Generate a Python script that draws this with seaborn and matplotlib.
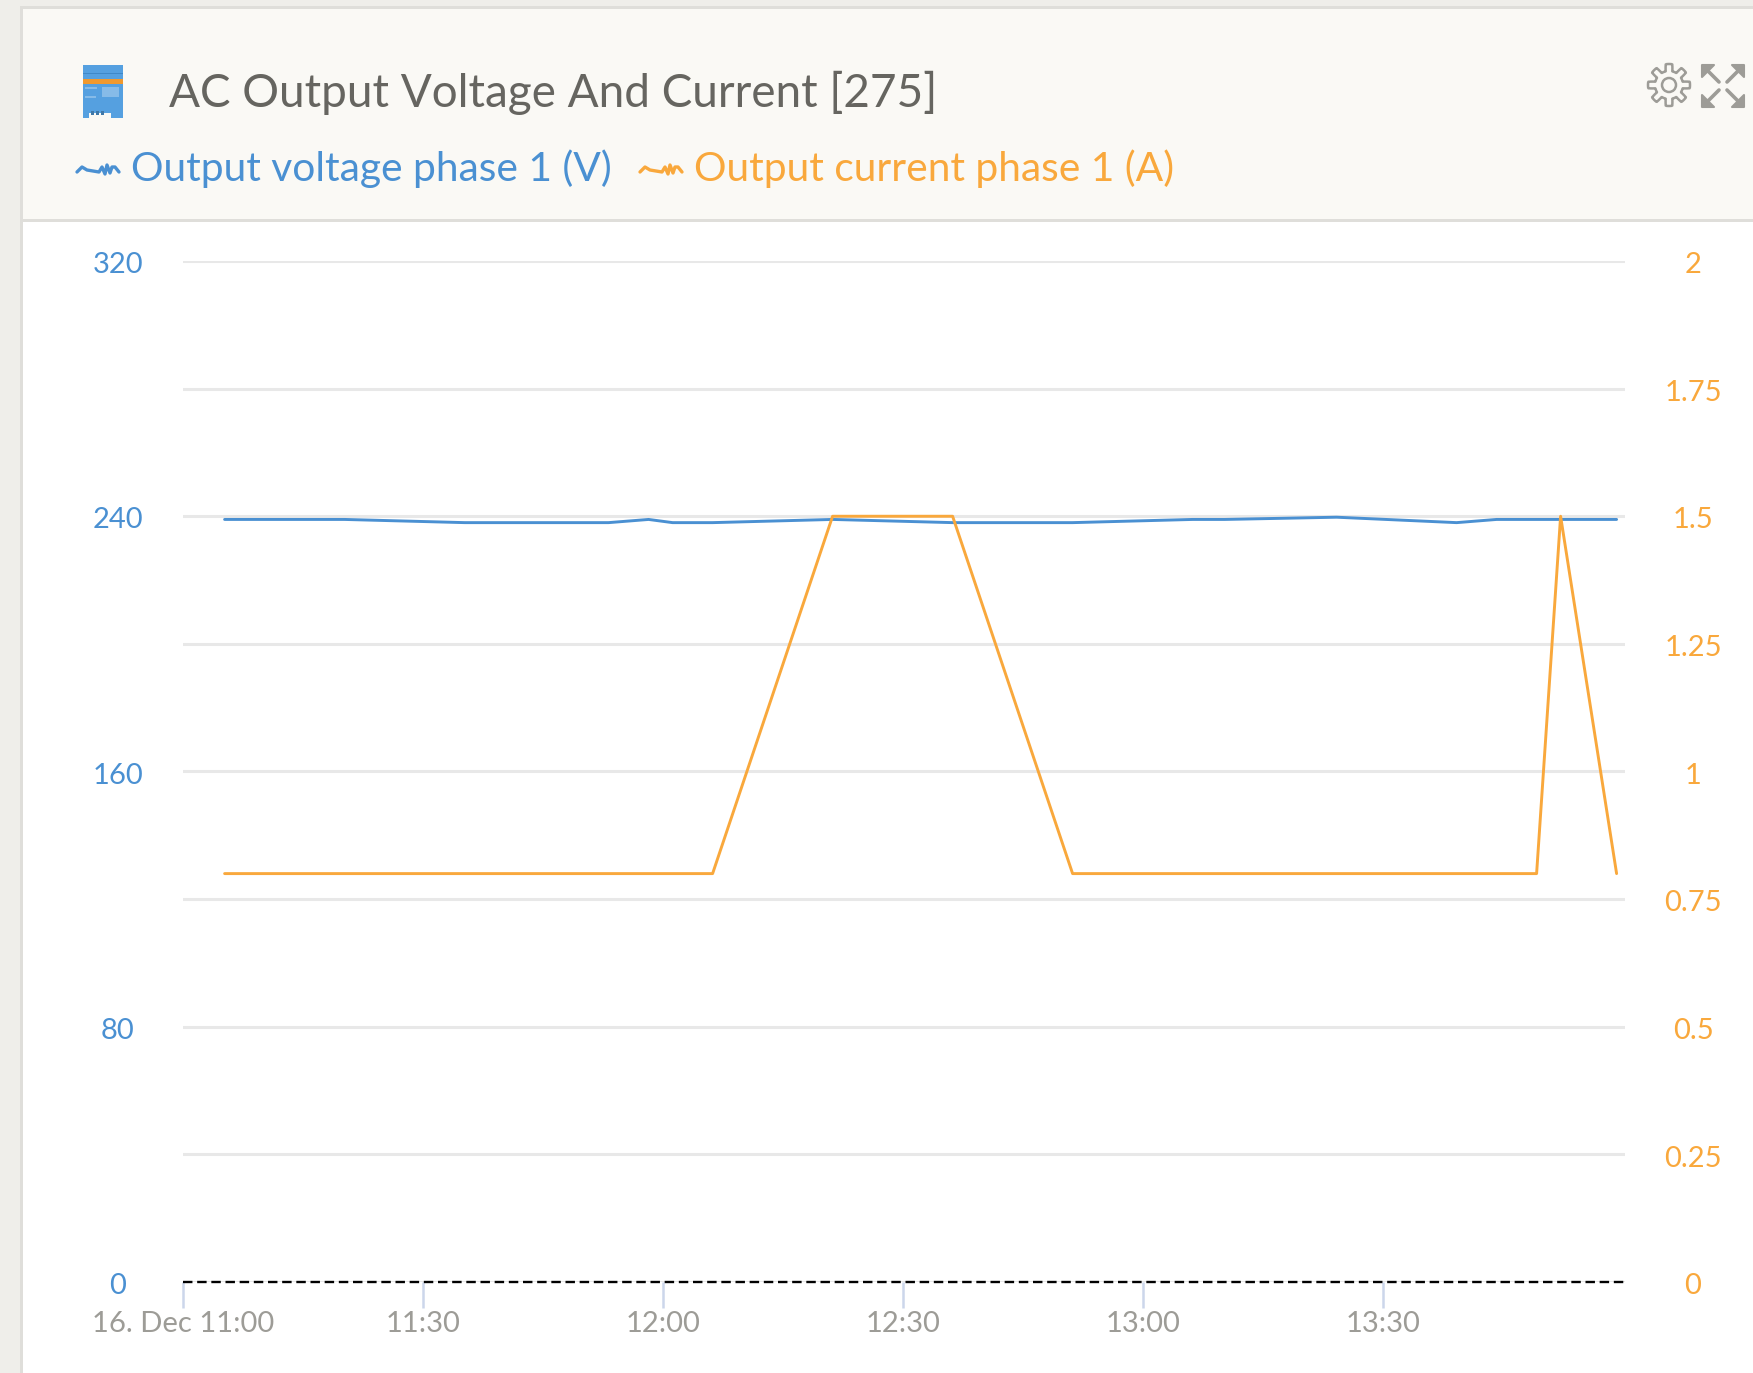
import numpy as np
import pandas as pd
import seaborn as sns
import matplotlib.pyplot as plt
import matplotlib.dates as mdates
from matplotlib.patches import Rectangle, Polygon, Circle
from matplotlib.transforms import ScaledTranslation

# values
volt_times = ["11:05", "11:20", "11:35", "11:53", "11:58", "12:01", "12:06", "12:21",
              "12:36", "12:51", "13:06", "13:10", "13:24", "13:39", "13:44", "13:59"]
volt_values = [239, 239, 238, 238, 239, 238, 238, 239, 238, 238, 239, 239, 239.7, 238, 239, 239]
amp_times = ["11:05", "12:06", "12:21", "12:36", "12:51", "13:49", "13:52", "13:59"]
amp_values = [0.8, 0.8, 1.5, 1.5, 0.8, 0.8, 1.5, 0.8]
x_ticks = ["11:00", "11:30", "12:00", "12:30", "13:00", "13:30"]
x_labels = ["16. Dec 11:00", "11:30", "12:00", "12:30", "13:00", "13:30"]
volt_ticks = [0, 80, 160, 240, 320]
amp_ticks = [0, 0.25, 0.5, 0.75, 1, 1.25, 1.5, 1.75, 2]
amp_labels = ["0", "0.25", "0.5", "0.75", "1", "1.25", "1.5", "1.75", "2"]

BLUE = "#4a90d2"
ORANGE = "#f9a83c"
GRID = "#e8e8e8"
GREY = "#9d9c97"


def to_time(values):
    return pd.to_datetime(["2019-12-16 " + v for v in values])


def squiggle(ax, x0, y0, color):
    xs = np.array([0, 5, 10, 22, 25, 28, 30, 33, 35, 38, 42])
    ys = np.array([2, -3, 0, 2, -3, 4, -5, 3, -3, -3, 2])
    ax.plot(x0 + xs, y0 + ys, color=color, lw=2.4, solid_joinstyle="round")


def expand_arrow(ax, cx, cy, sx, sy):
    # one corner of the expand icon: a head in the corner and a short shaft
    ax.add_patch(Polygon([(cx, cy), (cx - sx * 12, cy), (cx, cy - sy * 12)],
                         closed=True, fc=GREY, ec=GREY, lw=1.5, joinstyle="round"))
    ax.plot([cx - sx * 5, cx - sx * 17], [cy - sy * 5, cy - sy * 17], color=GREY, lw=2.6,
            solid_capstyle="round")


def draw_header(ax):
    ax.add_patch(Rectangle((0, 0), 1753, 1373, fc="#efeeea", ec="none"))
    ax.add_patch(Rectangle((20, 6), 1733, 1367, fc="#dfdeda", ec="none"))
    ax.add_patch(Rectangle((23, 9), 1730, 210, fc="#faf9f5", ec="none"))
    ax.add_patch(Rectangle((23, 222), 1730, 1151, fc="white", ec="none"))

    # inverter icon
    ax.add_patch(Rectangle((83, 65), 40, 50, fc="#55a0e0", ec="none"))
    ax.add_patch(Rectangle((83, 79), 40, 5, fc="#f0992e", ec="none"))
    ax.add_patch(Rectangle((83, 73), 40, 1, fc="#3f88c8", ec="none"))
    ax.add_patch(Rectangle((102, 87), 17, 10, fc="#86bbe8", ec="none"))
    ax.add_patch(Rectangle((85, 87), 12, 2, fc="#86bbe8", ec="none"))
    ax.add_patch(Rectangle((85, 96), 11, 2, fc="#86bbe8", ec="none"))
    ax.add_patch(Rectangle((83, 112), 40, 6, fc="#55a0e0", ec="none"))
    ax.add_patch(Rectangle((89, 113), 22, 5, fc="#faf9f5", ec="none"))
    ax.add_patch(Rectangle((91, 111), 3, 4, fc="#3f78a8", ec="none"))
    ax.add_patch(Rectangle((96, 111), 3, 4, fc="#3f78a8", ec="none"))
    ax.add_patch(Rectangle((101, 111), 3, 4, fc="#3f78a8", ec="none"))

    # gear icon
    theta = np.linspace(0, 2 * np.pi, 241)
    rad = 17.5 + 3.5 * np.clip(3 * np.cos(8 * theta), -1, 1)
    ax.add_patch(Polygon(np.c_[1669 + rad * np.cos(theta), 85 + rad * np.sin(theta)],
                         closed=True, fc="none", ec=GREY, lw=1.8))
    ax.add_patch(Circle((1669, 85), 7, fc="none", ec=GREY, lw=1.8))

    # expand icon
    expand_arrow(ax, 1702, 65, -1, -1)
    expand_arrow(ax, 1744, 65, 1, -1)
    expand_arrow(ax, 1702, 107, -1, 1)
    expand_arrow(ax, 1744, 107, 1, 1)

    ax.text(169, 93, "AC Output Voltage And Current [275]", color="#666560",
            fontsize=33, va="center", ha="left")
    squiggle(ax, 77, 170, BLUE)
    ax.text(131, 169, "Output voltage phase 1 (V)", color=BLUE, fontsize=29.3, va="center", ha="left")
    squiggle(ax, 640, 170, ORANGE)
    ax.text(694, 169, "Output current phase 1 (A)", color=ORANGE, fontsize=29.3, va="center", ha="left")


sns.set_theme(style="white")
plt.rcParams["font.family"] = ["Lato", "DejaVu Sans"]

W, H = 1753, 1373
fig = plt.figure(figsize=(W / 100, H / 100), dpi=100)

bg = fig.add_axes([0, 0, 1, 1], zorder=0)
bg.set_xlim(0, W)
bg.set_ylim(H, 0)
bg.axis("off")
draw_header(bg)

left, right, top, bottom = 183, 1625, 261, 1282
ax = fig.add_axes([left / W, 1 - bottom / H, (right - left) / W, (bottom - top) / H], zorder=1)
ax.set_facecolor("none")
ax2 = ax.twinx()
ax2.set_facecolor("none")

# samples sit a few seconds after the minute
sample_shift = pd.Timedelta(seconds=12)
volt_df = pd.DataFrame({"time": to_time(volt_times) + sample_shift, "volt": volt_values})
amp_df = pd.DataFrame({"time": to_time(amp_times) + sample_shift, "amp": amp_values})

# right axis carries the grid so the .25 steps show up
ax2.set_ylim(0, 2)
ax2.set_yticks(amp_ticks, amp_labels)
ax2.grid(axis="y", color=GRID, lw=2.2)
ax2.set_axisbelow(True)
ax.set_ylim(0, 320)
ax.set_yticks(volt_ticks)

sns.lineplot(data=volt_df, x="time", y="volt", color=BLUE, lw=2.1, ax=ax2,
             estimator=None, sort=False)
# blue line is on the volt scale, drawn through the volt axis transform
ax2.lines[-1].set_transform(ax.transData)
sns.lineplot(data=amp_df, x="time", y="amp", color=ORANGE, lw=2.1, ax=ax2,
             estimator=None, sort=False)
ax2.axhline(0, color="black", lw=1.7, dashes=(4.0, 2.0), zorder=5, clip_on=False)

start = to_time(["11:00"])[0]
end = to_time(["14:00"])[0] + pd.Timedelta(seconds=15)
ax.set_xlim(start, end)
ax2.set_xlim(start, end)
ax.xaxis.set_major_locator(plt.FixedLocator(mdates.date2num(to_time(x_ticks))))
ax.set_xticklabels(x_labels)

ax.set_xlabel("")
ax.set_ylabel("")
ax2.set_xlabel("")
ax2.set_ylabel("")
for a in (ax, ax2):
    for s in a.spines.values():
        s.set_visible(False)

ax.tick_params(axis="x", length=18.5, width=1.8, color="#ccd6eb", labelcolor=GREY,
               labelsize=21, pad=2.5, bottom=True)
ax.tick_params(axis="y", length=0, labelcolor=BLUE, labelsize=21, pad=47)
ax2.tick_params(axis="y", length=0, labelcolor=ORANGE, labelsize=21, pad=49)
nudge = ScaledTranslation(0, -1.2 / 72, fig.dpi_scale_trans)
for t in ax.get_yticklabels() + ax2.get_yticklabels():
    t.set_ha("center")
    t.set_transform(t.get_transform() + nudge)

fig.savefig("out.png", dpi=100)
